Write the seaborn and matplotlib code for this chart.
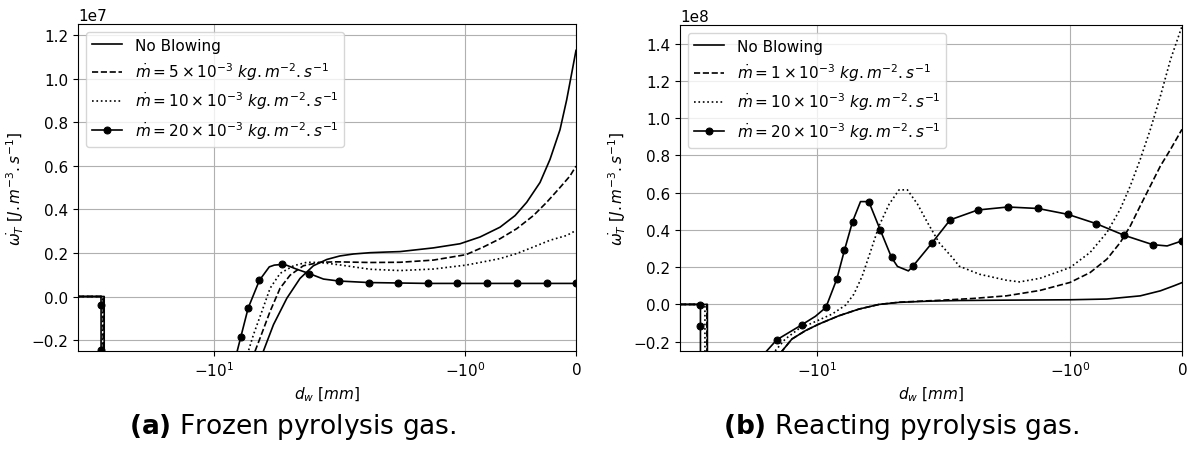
import numpy as np
import pandas as pd
import matplotlib
matplotlib.use("Agg")
import matplotlib.pyplot as plt
import seaborn as sns

# ---------------- data (x in mm, y in units of SCALE) ----------------
SCALE_A = 1e7
SCALE_B = 1e8

# (a) Frozen pyrolysis gas
xa_0 = [-48, -35.5, -35.45, -8.5, -5.67, -5.05, -4.33, -3.72, -3.19, -2.73, -2.35, -2.01, -1.854, -1.704,
        -1.584, -1.284, -1.044, -0.864, -0.684, -0.549, -0.444, -0.324, -0.234, -0.144, -0.084, -0.039, 0]
ya_0 = [0, 0, -3.0, -0.7, -0.25, -0.129, -0.008, 0.083, 0.141, 0.170, 0.186, 0.195, 0.201, 0.204,
        0.206, 0.223, 0.242, 0.273, 0.318, 0.371, 0.432, 0.523, 0.629, 0.765, 0.902, 1.023, 1.129]

xa_5 = [-48, -35.9, -35.85, -8.5, -6.24, -5.89, -5.25, -4.68, -4.17, -3.58, -2.95, -2.44, -1.854, -1.584,
        -1.284, -0.99, -0.834, -0.684, -0.534, -0.384, -0.264, -0.144, -0.054, 0]
ya_5 = [0, 0, -3.0, -0.6, -0.25, -0.19, -0.068, 0.038, 0.098, 0.141, 0.157, 0.159, 0.156, 0.157,
        0.167, 0.192, 0.227, 0.265, 0.311, 0.371, 0.432, 0.5, 0.553, 0.598]

xa_10 = [-48, -36.2, -36.15, -8.8, -6.74, -6.36, -5.77, -5.25, -4.68, -4.01, -3.44, -2.95, -2.44, -1.854,
         -1.584, -1.284, -0.99, -0.834, -0.684, -0.534, -0.384, -0.234, -0.084, 0]
ya_10 = [0, 0, -3.0, -0.6, -0.25, -0.175, -0.068, 0.038, 0.106, 0.141, 0.157, 0.156, 0.147, 0.125,
         0.119, 0.126, 0.144, 0.159, 0.174, 0.197, 0.227, 0.258, 0.28, 0.303]

xa_20 = [-48, -36.85, -36.8, -36.8, -36.75, -9.0, -7.36, -6.76, -5.94, -5.3, -5.0, -4.59, -4.33, -3.86,
         -3.34, -2.84, -2.38, -1.866, -1.602, -1.329, -1.068, -0.798, -0.534, -0.264, 0]
ya_20 = [0, 0, -0.038, -0.247, -3.0, -0.5, -0.186, -0.053, 0.074, 0.136, 0.144, 0.147, 0.143, 0.125,
         0.105, 0.080, 0.071, 0.064, 0.062, 0.06, 0.06, 0.06, 0.06, 0.06, 0.06]
marks_a20 = [2, 3, 6, 7, 8, 11, 14, 16, 17, 18, 19, 20, 21, 22, 23, 24]

# (b) Reacting pyrolysis gas
xb_0 = [-48, -35.1, -35.05, -30, -18, -15.0, -13.37, -11.46, -9.84, -7.82, -6.21, -4.94, -3.93, -2.89,
        -2.48, -1.989, -1.569, -1.0, -0.671, -0.373, -0.193, -0.072, 0]
yb_0 = [0, 0, -3.0, -1.5, -0.36, -0.252, -0.186, -0.141, -0.106, -0.061, -0.025, 0.0, 0.011, 0.017,
        0.019, 0.021, 0.023, 0.025, 0.029, 0.046, 0.073, 0.100, 0.117]

xb_1 = [-48, -35.3, -35.25, -30, -18, -15.0, -13.37, -11.46, -9.84, -7.82, -6.21, -4.94, -3.93, -2.89,
        -2.48, -1.869, -1.569, -1.270, -1.0, -0.821, -0.671, -0.552, -0.462, -0.373, -0.283, -0.193,
        -0.103, 0]
yb_1 = [0, 0, -3.0, -1.5, -0.36, -0.252, -0.186, -0.141, -0.106, -0.061, -0.025, 0.0, 0.012, 0.019,
        0.022, 0.032, 0.046, 0.075, 0.118, 0.171, 0.243, 0.332, 0.421, 0.529, 0.636, 0.743,
        0.832, 0.94]

xb_10 = [-48, -36.1, -36.05, -25, -16.2, -14.42, -12.39, -10.02, -8.45, -7.24, -6.58, -5.98, -5.43, -4.94,
         -4.40, -3.93, -3.57, -3.18, -2.84, -2.48, -2.13, -1.989, -1.809, -1.569, -1.450, -1.270, -1.0,
         -0.821, -0.671, -0.552, -0.462, -0.373, -0.283, -0.193, -0.103, 0]
yb_10 = [0, 0, -3.0, -0.5, -0.25, -0.186, -0.132, -0.088, -0.052, -0.004, 0.055, 0.153, 0.287, 0.421,
         0.538, 0.615, 0.615, 0.538, 0.44, 0.33, 0.25, 0.205, 0.162, 0.130, 0.121, 0.140, 0.198,
         0.279, 0.386, 0.511, 0.636, 0.779, 0.939, 1.118, 1.314, 1.493]

xb_20 = [-48, -38.05, -38.0, -38.0, -37.95, -29, -17.83, -15.89, -11.92, -10.22, -9.06, -8.0, -7.33, -6.68,
         -6.10, -5.55, -4.87, -4.28, -4.0, -3.53, -3.36, -2.70, -2.19, -1.824, -1.555, -1.286, -1.022,
         -0.768, -0.516, -0.262, -0.133, 0]
yb_20 = [0, 0, -0.004, -0.118, -3.0, -0.5, -0.25, -0.190, -0.109, -0.064, -0.016, 0.136, 0.291, 0.445,
         0.552, 0.552, 0.40, 0.252, 0.204, 0.180, 0.204, 0.329, 0.454, 0.507, 0.523, 0.515, 0.484,
         0.434, 0.371, 0.321, 0.314, 0.341]
marks_b20 = [2, 3, 7, 8, 10, 11, 12, 13, 15, 16, 17, 20, 21, 22, 23, 24, 25, 26, 27, 28, 29, 31]

labels_a = ["No Blowing",
            r"$\dot{m} = 5 \times 10^{-3}\ kg.m^{-2}.s^{-1}$",
            r"$\dot{m} = 10 \times 10^{-3}\ kg.m^{-2}.s^{-1}$",
            r"$\dot{m} = 20 \times 10^{-3}\ kg.m^{-2}.s^{-1}$"]
labels_b = ["No Blowing",
            r"$\dot{m} = 1 \times 10^{-3}\ kg.m^{-2}.s^{-1}$",
            r"$\dot{m} = 10 \times 10^{-3}\ kg.m^{-2}.s^{-1}$",
            r"$\dot{m} = 20 \times 10^{-3}\ kg.m^{-2}.s^{-1}$"]

captions = [r"$\mathbf{(a)}$ Frozen pyrolysis gas.",
            r"$\mathbf{(b)}$ Reacting pyrolysis gas."]

# ---------------- figure ----------------
plt.rcParams["font.family"] = ["DejaVu Sans"]
plt.rcParams["font.size"] = 11
W, H = 1187, 452
fig = plt.figure(figsize=(W / 100, H / 100), dpi=100)
ax_a = fig.add_axes([78 / W, 1 - 352 / H, 498 / W, 327 / H])
ax_b = fig.add_axes([680 / W, 1 - 352 / H, 502 / W, 326 / H])

styles = [dict(linestyle="-"), dict(linestyle="--"), dict(linestyle=":")]


def draw(ax, curves, labels, marks, scale, ylim, yticks):
    for (x, y), lab, st in zip(curves[:3], labels[:3], styles):
        sns.lineplot(x=x, y=np.array(y) * scale, ax=ax, sort=False, estimator=None,
                     color="black", lw=1.2, label=lab, **st)
    x, y = curves[3]
    sns.lineplot(x=x, y=np.array(y) * scale, ax=ax, sort=False, estimator=None,
                 color="black", lw=1.2, label=labels[3], marker="o", markersize=5,
                 markevery=marks, markeredgecolor="black", markerfacecolor="black")
    ax.set_xscale("symlog")
    ax.set_xlim(-48, 0)
    ax.set_ylim(ylim[0] * scale, ylim[1] * scale)
    ax.set_yticks(np.array(yticks) * scale)
    ax.set_xticks([-10, -1, 0])
    ax.xaxis.set_minor_locator(matplotlib.ticker.NullLocator())
    ax.grid(True, color="#b0b0b0", lw=0.8)
    ax.set_axisbelow(True)
    ax.set_xlabel(r"$d_w\ [mm]$", fontsize=11)
    ax.set_ylabel(r"$\dot{\omega_T}\ [J.m^{-3}.s^{-1}]$", fontsize=11)
    ax.tick_params(labelsize=11)
    ax.legend(loc="upper left", fontsize=11)


draw(ax_a, [(xa_0, ya_0), (xa_5, ya_5), (xa_10, ya_10), (xa_20, ya_20)], labels_a, marks_a20,
     SCALE_A, (-0.25, 1.25), [-0.2, 0.0, 0.2, 0.4, 0.6, 0.8, 1.0, 1.2])
draw(ax_b, [(xb_0, yb_0), (xb_1, yb_1), (xb_10, yb_10), (xb_20, yb_20)], labels_b, marks_b20,
     SCALE_B, (-0.25, 1.5), [-0.2, 0.0, 0.2, 0.4, 0.6, 0.8, 1.0, 1.2, 1.4])

for cx, txt in zip([293, 901], captions):
    fig.text(cx / W, 1 - 427 / H, txt, ha="center", va="center", fontsize=19)

fig.savefig("out.png", dpi=100)
